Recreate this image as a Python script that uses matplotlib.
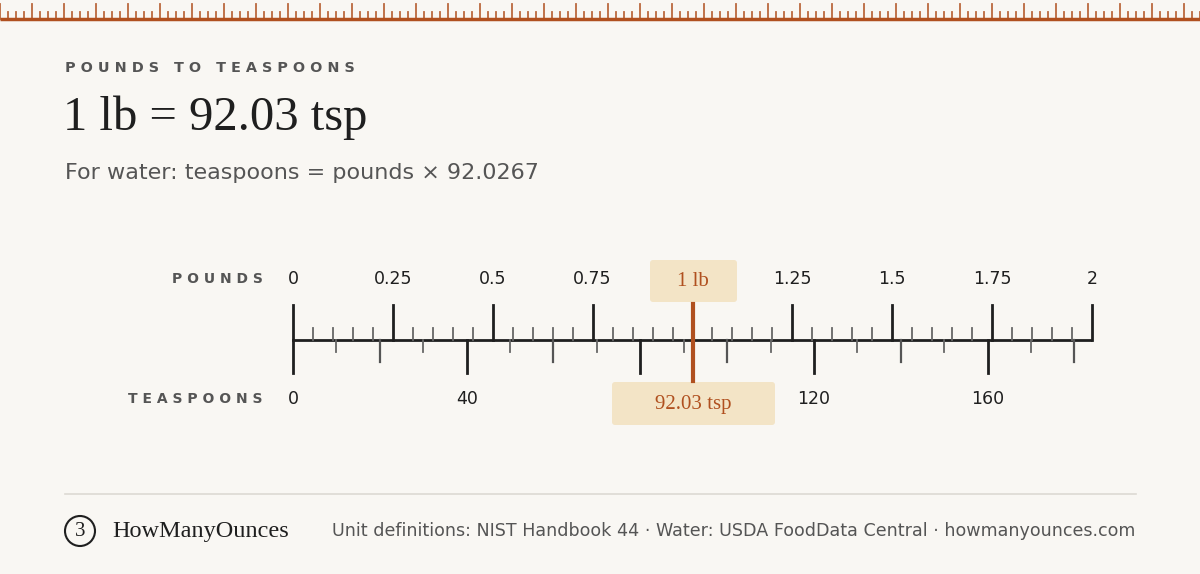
import matplotlib
matplotlib.use('Agg')
from matplotlib import pyplot as plt
from matplotlib.patches import FancyBboxPatch, Circle

factor = 92.0267
value_lb = 1
lb_labels = [0, 0.25, 0.5, 0.75, 1.25, 1.5, 1.75, 2]
lb_label_text = ['0', '0.25', '0.5', '0.75', '1.25', '1.5', '1.75', '2']
tsp_labels = [0, 40, 120, 160]

bg = '#f9f7f3'
rust = '#b0501f'
ink = '#1f1f1f'
gray = '#555555'
box = '#f3e4c6'

fig = plt.figure(figsize=(12, 5.74), dpi=100, facecolor=bg)

# page layer in pixel coords
page = fig.add_axes([0, 0, 1, 1])
page.set_xlim(0, 1200)
page.set_ylim(574, 0)
page.axis('off')
page.set_facecolor(bg)

# top ruler band
page.plot([0, 1200], [19, 19], color=rust, lw=2.5, solid_capstyle='butt')
for i in range(0, 151):
    x = i * 8
    top = 4 if i % 4 == 0 else 12
    page.plot([x, x], [top, 19], color=rust, lw=1.3, alpha=0.85)

page.text(65, 68, 'P O U N D S   T O   T E A S P O O N S', fontsize=10.4, color=gray,
          fontweight='bold', va='center', ha='left', family='DejaVu Sans')
page.text(63, 118, '1 lb = 92.03 tsp', fontsize=35, color=ink, va='center', ha='left',
          family='Liberation Serif')
page.text(65, 173, 'For water: teaspoons = pounds × 92.0267', fontsize=16, color=gray,
          va='center', ha='left', family='DejaVu Sans')

page.text(263, 279, 'P O U N D S', fontsize=10, color=gray, fontweight='bold', ha='right', va='center')
page.text(263, 399, 'T E A S P O O N S', fontsize=10, color=gray, fontweight='bold', ha='right', va='center')

# footer
page.plot([65, 1136], [494, 494], color='#dddad3', lw=1.2)
page.add_patch(Circle((80, 531), 15, fill=False, ec=ink, lw=1.5))
page.text(80, 532, '3', fontsize=15, color=ink, ha='center', va='center', family='Liberation Serif')
page.text(112, 531, 'HowManyOunces', fontsize=17.5, color=ink, ha='left', va='center', family='Liberation Serif')
page.text(1135, 531, 'Unit definitions: NIST Handbook 44 · Water: USDA FoodData Central · howmanyounces.com',
          fontsize=12.6, color=gray, ha='right', va='center')

# ruler axes: x in pounds, y in pixels
x0, x1 = 293, 1092
ax = fig.add_axes([x0 / 1200, 0, (x1 - x0) / 1200, 1])
ax.set_xlim(0, 2)
ax.set_ylim(574, 0)
ax.axis('off')
ax.patch.set_alpha(0)

ax.plot([0, 2], [340, 340], color=ink, lw=2, solid_capstyle='butt', clip_on=False)
for i in range(41):
    lb = i * 0.05
    if i % 5 == 0:
        ax.plot([lb, lb], [305, 340], color=ink, lw=2, clip_on=False)
    else:
        ax.plot([lb, lb], [328, 340], color='#666', lw=1.3, clip_on=False)
for t in range(0, 190, 10):
    lb = t / factor
    if lb > 2:
        break
    if t % 40 == 0:
        ax.plot([lb, lb], [340, 373], color=ink, lw=2, clip_on=False)
    elif t % 20 == 0:
        ax.plot([lb, lb], [340, 362], color='#555', lw=1.6)
    else:
        ax.plot([lb, lb], [340, 352], color='#666', lw=1.3)

for v, s in zip(lb_labels, lb_label_text):
    ax.text(v, 279, s, fontsize=12.5, color=ink, ha='center', va='center')
for t in tsp_labels:
    ax.text(t / factor, 399, str(t), fontsize=12.5, color=ink, ha='center', va='center')

# marker
ax.plot([value_lb, value_lb], [304, 381], color=rust, lw=3)
page.add_patch(FancyBboxPatch((650, 260), 87, 42, boxstyle='round,pad=0,rounding_size=3',
                              fc=box, ec='none'))
page.text(693, 282, '1 lb', fontsize=15, color=rust, ha='center', va='center', family='Liberation Serif')
page.add_patch(FancyBboxPatch((612, 382), 163, 43, boxstyle='round,pad=0,rounding_size=3',
                              fc=box, ec='none'))
page.text(693, 404, '%.2f tsp' % (value_lb * factor), fontsize=15, color=rust, ha='center', va='center',
          family='Liberation Serif')

fig.savefig('out.png', dpi=100, facecolor=bg)
